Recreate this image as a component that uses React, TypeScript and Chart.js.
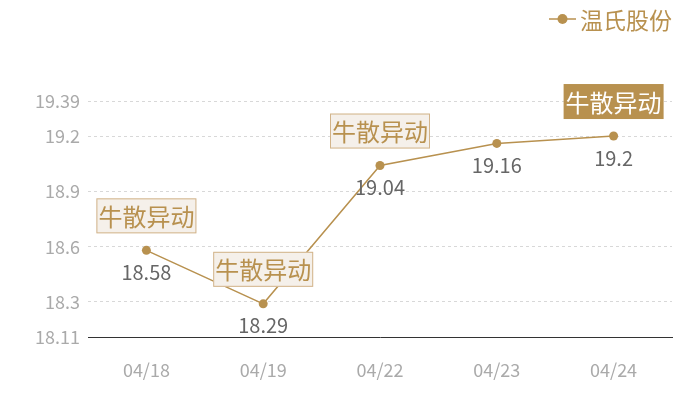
import React, { useEffect, useRef } from "react";
import { Chart, registerables } from "chart.js";

Chart.register(...registerables);

const categories = ["04/18", "04/19", "04/22", "04/23", "04/24"];
const prices = [18.58, 18.29, 19.04, 19.16, 19.2];
const yTicks = [18.11, 18.3, 18.6, 18.9, 19.2, 19.39];
const seriesName = "温氏股份";
const flagText = "牛散异动";
const flagged = [true, true, true, false, true];
const highlighted = [false, false, false, false, true];

const GOLD = "#b8914f";
const FONT = "'Noto Sans CJK SC', 'Noto Sans', sans-serif";

const overlayPlugin = {
  id: "overlay",
  afterDatasetsDraw(chart: any) {
    const ctx = chart.ctx;
    const meta = chart.getDatasetMeta(0);
    ctx.save();
    meta.data.forEach((pt: any, i: number) => {
      const x = pt.x;
      const y = pt.y;
      // value label
      ctx.font = `20px ${FONT}`;
      ctx.fillStyle = "#666";
      ctx.textAlign = "center";
      ctx.textBaseline = "middle";
      ctx.fillText(String(prices[i]), x, y + 22);
      if (flagged[i]) {
        const w = 100;
        const h = 35;
        const bx = x - w / 2;
        const by = y - 17 - h;
        if (highlighted[i]) {
          ctx.fillStyle = GOLD;
          ctx.fillRect(bx, by, w, h);
          ctx.fillStyle = "#ffffff";
        } else {
          ctx.fillStyle = "#f5f0ea";
          ctx.fillRect(bx, by, w, h);
          ctx.strokeStyle = "#d2b48a";
          ctx.lineWidth = 1;
          ctx.strokeRect(bx + 0.5, by + 0.5, w - 1, h - 1);
          ctx.fillStyle = GOLD;
        }
        ctx.font = `24px ${FONT}`;
        ctx.fillText(flagText, x, by + h / 2 + 1);
      }
    });
    // legend
    const ly = 19;
    ctx.strokeStyle = GOLD;
    ctx.lineWidth = 1.5;
    ctx.beginPath();
    ctx.moveTo(549, ly);
    ctx.lineTo(576, ly);
    ctx.stroke();
    ctx.fillStyle = GOLD;
    ctx.beginPath();
    ctx.arc(562.5, ly, 5, 0, Math.PI * 2);
    ctx.fill();
    ctx.font = `23px ${FONT}`;
    ctx.textAlign = "left";
    ctx.textBaseline = "middle";
    ctx.fillText(seriesName, 580, ly + 1);
    ctx.restore();
  },
};

export default function App() {
  const ref = useRef<HTMLCanvasElement | null>(null);
  useEffect(() => {
    if (!ref.current) return;
    const chart = new Chart(ref.current, {
      type: "line",
      data: {
        labels: categories,
        datasets: [
          {
            label: seriesName,
            data: prices,
            borderColor: GOLD,
            backgroundColor: GOLD,
            borderWidth: 1.5,
            pointRadius: 4.5,
            pointBackgroundColor: GOLD,
            pointBorderWidth: 0,
            tension: 0,
          },
        ],
      },
      options: {
        responsive: false,
        animation: false,
        layout: { padding: { top: 101, right: 28, left: 0, bottom: 0 } },
        plugins: {
          legend: { display: false },
          tooltip: { enabled: false },
        },
        scales: {
          x: {
            offset: true,
            grid: { display: false, drawTicks: false },
            border: { display: true, color: "#333", width: 1 },
            ticks: {
              color: "#aaa",
              font: { family: FONT, size: 18 },
              padding: 22,
            },
            afterFit(scale: any) {
              scale.height = 63;
            },
          },
          y: {
            min: 18.11,
            max: 19.39,
            afterBuildTicks(scale: any) {
              scale.ticks = yTicks.map((v) => ({ value: v }));
            },
            afterFit(scale: any) {
              scale.width = 88;
            },
            border: { display: false, dash: [3, 3] },
            grid: {
              drawTicks: false,
              color: (c: any) => (c.tick && c.tick.value === 18.11 ? "rgba(0,0,0,0)" : "#d8d8d8"),
              lineWidth: 1,
            },
            ticks: {
              color: "#aaa",
              font: { family: FONT, size: 18 },
              padding: 8,
              callback: (v: any) => String(v),
            },
          },
        },
      },
      plugins: [overlayPlugin],
    } as any);
    return () => chart.destroy();
  }, []);
  return (
    <div style={{ position: "fixed", left: 0, top: 0, width: 700, height: 400, background: "#fff" }}>
      <canvas ref={ref} width={700} height={400} />
    </div>
  );
}
